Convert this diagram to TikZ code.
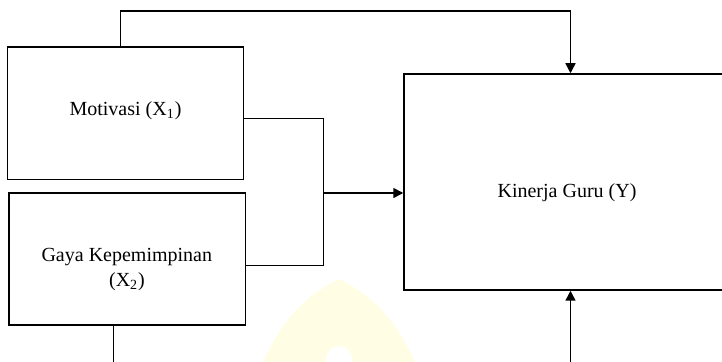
\documentclass[tikz,border=0pt]{standalone}
\usepackage{fontspec}
\setmainfont{Liberation Serif}
\usetikzlibrary{arrows.meta}
\definecolor{wmark}{RGB}{255,254,229}
\begin{document}
\begin{tikzpicture}[x=0.5pt,y=-0.5pt,
  box/.style={draw, line width=0.75pt, inner sep=0pt, rectangle},
  lbl/.style={inner sep=0pt, anchor=base, font=\fontsize{10}{12}\selectfont},
  link/.style={line width=0.5pt},
  feed/.style={line width=0.75pt, -{Triangle[length=5pt,width=5pt]}}]
\useasboundingbox (0,0) rectangle (722,362);
\clip (0,0) rectangle (722,362);

% faint emblem in the background
\fill[wmark] (263,362) .. controls (282,320) and (305,296) .. (339,279)
  .. controls (373,296) and (396,320) .. (415,362) -- cycle;
\fill[white] (339,359) circle (13);

% boxes
\node[box, minimum width=118pt, minimum height=66.25pt] (M) at (125.5,113.25) {};
\node[box, minimum width=118.25pt, minimum height=66pt] (G) at (127.25,259) {};
\node[box, minimum width=163.5pt, minimum height=108pt] (K) at (567.5,182) {};

% labels
\node[lbl] (tm) at (125.5,116) {Motivasi (X\textsubscript{1})};
\node[lbl] (tg1) at (126.8,261.7) {Gaya Kepemimpinan};
\node[lbl] (tg2) at (127,287) {(X\textsubscript{2})};
\node[lbl] (tk) at (567,198) {Kinerja Guru (Y)};

% connectors
\draw[feed] ([xshift=-2.5pt]M.north) -- ++(0,-35) -| ([xshift=1.5pt]K.north);
\draw[link] ([yshift=-2.4pt]M.east) -- ++(79.5,0) coordinate (j) |- ([yshift=-3.5pt]G.east);
\coordinate (kin) at ([yshift=-5.5pt]K.west);
\draw[feed] (j |- kin) -- (kin);
\draw[link] ([xshift=-7.125pt]G.south) -- ++(0,60);
\draw[feed] ([xshift=1.5pt,yshift=-40pt]K.south) -- ([xshift=1.5pt]K.south);
\end{tikzpicture}
\end{document}
